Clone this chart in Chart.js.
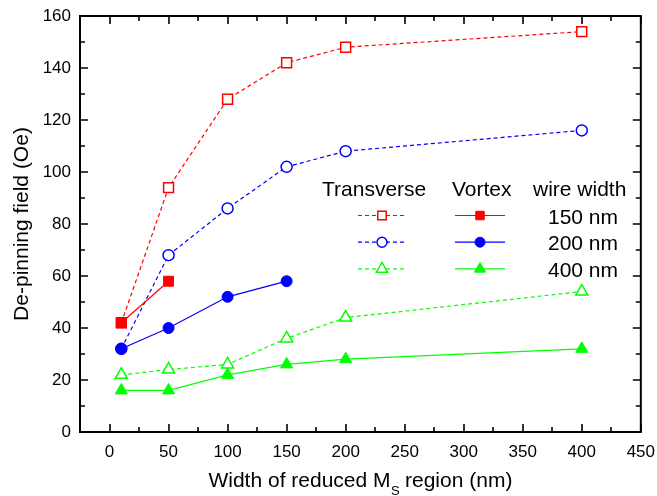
<!DOCTYPE html>
<html>
<head>
<meta charset="utf-8">
<script src="https://cdn.jsdelivr.net/npm/chart.js@4.4.0/dist/chart.umd.min.js"></script>
<style>
  body { margin: 0; background: #fff; }
  #wrap { width: 657px; height: 496px; }
</style>
</head>
<body>
<div id="wrap"><canvas id="chart" width="657" height="496"></canvas></div>
<script>
// Data
const widths = [10, 50, 100, 150, 200, 400];
const transverse150 = [42, 94, 128, 142, 148, 154];
const transverse200 = [32, 68, 86, 102, 108, 116];
const transverse400 = [22, 24, 26, 36, 44, 54];
const vortex150 = [42, 58];
const vortex200 = [32, 40, 52, 58];
const vortex400 = [16, 16, 22, 26, 28, 32];

const xTickValues = [0, 50, 100, 150, 200, 250, 300, 350, 400, 450];
const xMinorValues = [25, 75, 125, 175, 225, 275, 325, 375, 425];
const yTickValues = [0, 20, 40, 60, 80, 100, 120, 140, 160];
const yMinorValues = [10, 30, 50, 70, 90, 110, 130, 150];

const legendRows = ['150 nm', '200 nm', '400 nm'];

const RED = '#ff0000', BLUE = '#0000ff', GREEN = '#00ff00';
const FONT = "'Liberation Sans', Arial, sans-serif";

const toPoints = (vals) => vals.map((v, i) => ({ x: widths[i], y: v }));

const makeSet = (label, vals, color, style, radius, open) => ({
    label: label,
    data: toPoints(vals),
    showLine: true,
    borderColor: color,
    borderWidth: 1.2,
    borderDash: open ? [4, 3] : [],
    pointStyle: style,
    pointRadius: radius,
    pointBorderWidth: open ? 1.5 : 1,
    pointBackgroundColor: open ? '#ffffff' : color,
    pointBorderColor: color,
    tension: 0
});

// Vortex first so filled symbols sit on top
const datasets = [
    makeSet('Vortex 150 nm', vortex150, RED, 'rect', 7, false),
    makeSet('Vortex 200 nm', vortex200, BLUE, 'circle', 5.5, false),
    makeSet('Vortex 400 nm', vortex400, GREEN, 'triangle', 7, false),
    makeSet('Transverse 150 nm', transverse150, RED, 'rect', 7, true),
    makeSet('Transverse 200 nm', transverse200, BLUE, 'circle', 5.5, true),
    makeSet('Transverse 400 nm', transverse400, GREEN, 'triangle', 7, true)
];

// Frame, inward ticks, axis titles and the in-plot legend
const decorPlugin = {
    id: 'decor',
    afterDraw(chart) {
        const ctx = chart.ctx;
        const a = chart.chartArea;
        const xs = chart.scales.x, ys = chart.scales.y;
        ctx.save();
        ctx.strokeStyle = '#000';
        ctx.lineWidth = 2;
        ctx.strokeRect(a.left, a.top, a.right - a.left, a.bottom - a.top);

        ctx.lineWidth = 1.6;
        ctx.beginPath();
        const tickX = (vals, len) => vals.forEach(v => {
            const px = Math.round(xs.getPixelForValue(v));
            ctx.moveTo(px, a.bottom); ctx.lineTo(px, a.bottom - len);
            ctx.moveTo(px, a.top); ctx.lineTo(px, a.top + len);
        });
        const tickY = (vals, len) => vals.forEach(v => {
            const py = Math.round(ys.getPixelForValue(v));
            ctx.moveTo(a.left, py); ctx.lineTo(a.left + len, py);
            ctx.moveTo(a.right, py); ctx.lineTo(a.right - len, py);
        });
        tickX(xTickValues, 8); tickX(xMinorValues, 5);
        tickY(yTickValues, 8); tickY(yMinorValues, 5);
        ctx.stroke();

        // axis titles
        ctx.fillStyle = '#000';
        ctx.textBaseline = 'alphabetic';
        const p1 = 'Width of reduced M', p2 = ' region (nm)';
        ctx.font = '21px ' + FONT;
        const w1 = ctx.measureText(p1).width, w3 = ctx.measureText(p2).width;
        ctx.font = '13px ' + FONT;
        const w2 = ctx.measureText('S').width;
        const x0 = (a.left + a.right) / 2 - (w1 + w2 + w3) / 2;
        const base = 487;
        ctx.textAlign = 'left';
        ctx.font = '21px ' + FONT;
        ctx.fillText(p1, x0, base);
        ctx.font = '13px ' + FONT;
        ctx.fillText('S', x0 + w1 + 0.5, base + 8);
        ctx.font = '21px ' + FONT;
        ctx.fillText(p2, x0 + w1 + w2, base);

        ctx.save();
        ctx.translate(22, (a.top + a.bottom) / 2);
        ctx.rotate(-Math.PI / 2);
        ctx.textAlign = 'center';
        ctx.textBaseline = 'middle';
        ctx.fillText('De-pinning field (Oe)', 0, 0);
        ctx.restore();

        // legend
        ctx.font = '21px ' + FONT;
        ctx.textAlign = 'left';
        ctx.textBaseline = 'alphabetic';
        ctx.fillText('Transverse', 322, 196);
        ctx.fillText('Vortex', 452, 196);
        ctx.fillText('wire width', 533, 196);
        const colors = [RED, BLUE, GREEN];
        const styles = ['rect', 'circle', 'triangle'];
        const radii = [6, 5, 6.5];
        legendRows.forEach((txt, i) => {
            const y = 215.5 + i * 26.7;
            ctx.strokeStyle = colors[i];
            ctx.lineWidth = 1.2;
            ctx.setLineDash([4, 3]);
            ctx.beginPath(); ctx.moveTo(358, y); ctx.lineTo(405, y); ctx.stroke();
            ctx.setLineDash([]);
            ctx.beginPath(); ctx.moveTo(455, y); ctx.lineTo(505, y); ctx.stroke();
            ctx.fillStyle = '#ffffff';
            ctx.lineWidth = 1.5;
            Chart.helpers.drawPoint(ctx, { pointStyle: styles[i], radius: radii[i], borderWidth: 1.5, rotation: 0 }, 382, y);
            ctx.fillStyle = colors[i];
            ctx.lineWidth = 1;
            Chart.helpers.drawPoint(ctx, { pointStyle: styles[i], radius: radii[i], borderWidth: 1, rotation: 0 }, 480, y);
            ctx.fillStyle = '#000';
            ctx.fillText(txt, 548, y + 8);
        });
        ctx.restore();
    }
};

new Chart(document.getElementById('chart'), {
    type: 'scatter',
    data: { datasets: datasets },
    options: {
        responsive: false,
        animation: false,
        layout: { padding: { top: 16, right: 16, left: 0, bottom: 0 } },
        plugins: { legend: { display: false }, tooltip: { enabled: false } },
        scales: {
            x: {
                type: 'linear',
                min: -25,
                max: 450,
                grid: { display: false },
                border: { display: false },
                afterBuildTicks: (s) => { s.ticks = xTickValues.map(v => ({ value: v })); },
                afterFit: (s) => { s.height = 64; },
                ticks: { color: '#000', padding: 2, maxRotation: 0, font: { family: FONT, size: 17 } }
            },
            y: {
                type: 'linear',
                min: 0,
                max: 160,
                grid: { display: false },
                border: { display: false },
                afterBuildTicks: (s) => { s.ticks = yTickValues.map(v => ({ value: v })); },
                afterFit: (s) => { s.width = 80; },
                ticks: { color: '#000', padding: 1, font: { family: FONT, size: 17 } }
            }
        }
    },
    plugins: [decorPlugin]
});
</script>
</body>
</html>
